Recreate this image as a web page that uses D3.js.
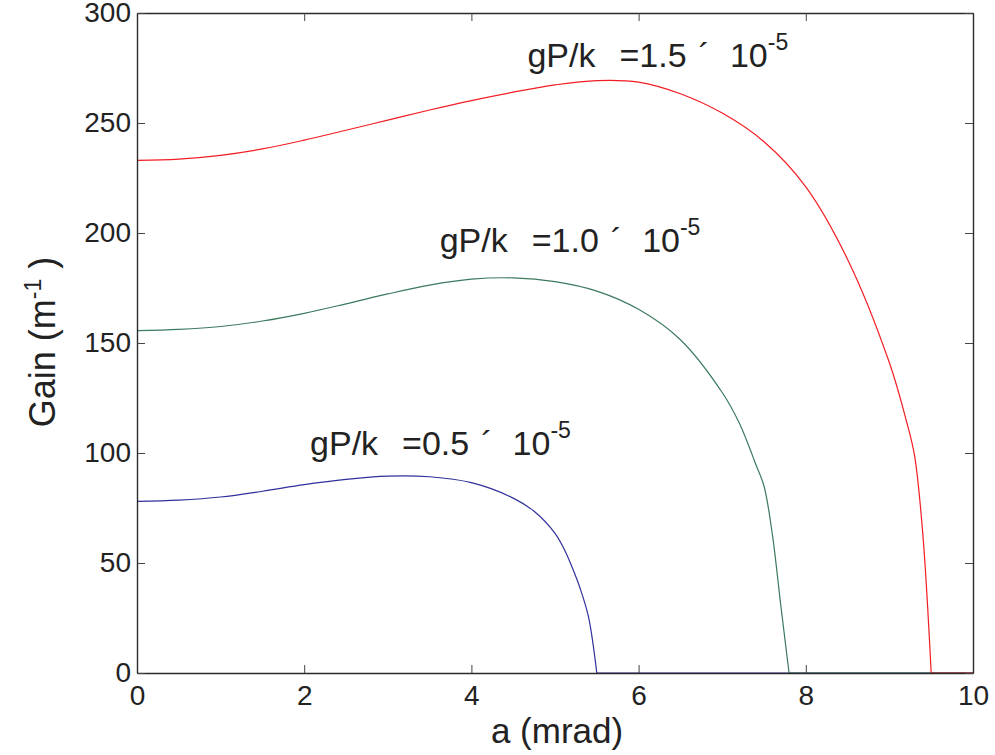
<!DOCTYPE html>
<html>
<head>
<script src="https://d3js.org/d3.v7.min.js"></script>
<style>
	body { margin: 0; background: #fff; }
	text { font-family: "Liberation Sans", Arial, sans-serif; fill: #222; }
</style>
</head>
<body>
<script>
	var width = 995;
	var height = 755;
	var margin = {top: 13, right: 20, bottom: 82, left: 137};

	// axis ticks
	var xTicks = [0, 2, 4, 6, 8, 10];
	var yTicks = [0, 50, 100, 150, 200, 250, 300];

	// curves (alpha in mrad, gain in 1/m)
	var blueX = [0, 0.5, 1.0, 1.5, 2.0, 2.5, 3.0, 3.5, 4.0, 4.5, 4.75, 5.0, 5.1, 5.2, 5.3, 5.4, 5.5, 10];
	var blueY = [78, 78.6, 80.0, 82.6, 85.6, 88.0, 89.5, 89.2, 86.5, 79.5, 73.5, 63.5, 57, 48.5, 38.5, 25.6, 0, 0];

	var greenX = [0, 0.5, 1.0, 1.5, 2.0, 2.5, 3.0, 3.5, 4.0, 4.5, 5.0, 5.5, 6.0, 6.5, 7.0, 7.2, 7.3, 7.4, 7.5, 7.6, 7.7, 7.8, 10];
	var greenY = [155.6, 156.2, 157.5, 160.0, 163.5, 167.8, 172.3, 176.3, 179.0, 179.6, 177.9, 173.6, 165.3, 151.5, 127.5, 114, 105, 95, 85, 63, 31, 0, 0];

	var redX = [0, 0.5, 1.0, 1.5, 2.0, 2.5, 3.0, 3.5, 4.0, 4.5, 5.0, 5.5, 6.0, 6.5, 7.0, 7.5, 8.0, 8.5, 9.0, 9.2, 9.3, 9.4, 9.5, 10];
	var redY = [233, 233.6, 235.3, 238.2, 242.2, 246.7, 251.3, 255.9, 260.2, 264.0, 267.3, 269.3, 268.6, 263.3, 254.5, 241.5, 221, 188, 141, 115, 99, 63, 0, 0];

	// labels placed at data coordinates, like text() in the original
	var labelText = ["0.5", "1.0", "1.5"];
	var labelX = [2.07, 3.62, 4.67];
	var labelY = [99, 191.5, 275.5];
	var colors = ["#30309c", "#3c7a5e", "#f21d23"];

	var series = [
		{x: blueX, y: blueY},
		{x: greenX, y: greenY},
		{x: redX, y: redY}
	];

	var svg = d3.select("body")
		.append("svg")
		.attr("width", width)
		.attr("height", height)

	var xScale = d3.scaleLinear()
		.domain([0, 10])
		.range([margin.left, width - margin.right - 2])
	var yScale = d3.scaleLinear()
		.domain([0, 300])
		.range([height - margin.bottom - 0, margin.top])

	// curves: smooth part, then a straight run along zero
	var smooth = d3.line()
		.x(d => xScale(d[0]))
		.y(d => yScale(d[1]))
		.curve(d3.curveCatmullRom.alpha(0.5))
	var straight = d3.line()
		.x(d => xScale(d[0]))
		.y(d => yScale(d[1]))

	series.forEach(function(s, i) {
		var pts = s.x.map((v, j) => [v, s.y[j]]);
		var cut = pts.findIndex(p => p[1] === 0);
		var head = pts.slice(0, cut + 1);
		var tail = pts.slice(cut);
		svg.append("path")
			.attr("d", smooth(head) + straight(tail))
			.attr("fill", "none")
			.attr("stroke", colors[i])
			.attr("stroke-width", 1.2)
	});

	// axes, ticks pointing inwards on all four sides
	var x0 = xScale.range()[0], x1 = xScale.range()[1];
	var y0 = yScale.range()[0], y1 = yScale.range()[1];

	svg.append("g")
		.attr("transform", "translate(0," + y0 + ")")
		.call(d3.axisBottom(xScale).tickValues(xTicks).tickSizeInner(-8).tickSizeOuter(0).tickPadding(12))
	svg.append("g")
		.attr("transform", "translate(0," + y1 + ")")
		.call(d3.axisTop(xScale).tickValues(xTicks).tickSizeInner(-8).tickSizeOuter(0).tickFormat(""))
	svg.append("g")
		.attr("transform", "translate(" + x0 + ",0)")
		.call(d3.axisLeft(yScale).tickValues(yTicks).tickSizeInner(-8).tickSizeOuter(0).tickPadding(6))
	svg.append("g")
		.attr("transform", "translate(" + x1 + ",0)")
		.call(d3.axisRight(yScale).tickValues(yTicks).tickSizeInner(-8).tickSizeOuter(0).tickFormat(""))

	svg.selectAll(".domain").attr("stroke", "#2a2a2a").attr("stroke-width", 1.4)
	svg.selectAll(".tick line").attr("stroke", "#444").attr("stroke-width", 1)
	svg.selectAll(".tick text").style("font-size", "28px").attr("fill", "#222")

	// annotations
	labelText.forEach(function(t, i) {
		var txt = svg.append("text")
			.attr("x", xScale(labelX[i]))
			.attr("y", yScale(labelY[i]))
			.style("font-size", "34px")
		txt.append("tspan").text("gP/k")
		txt.append("tspan").attr("dx", 24).text("=" + t)
		txt.append("tspan").attr("dx", 12).text("\u00b4")
		txt.append("tspan").attr("dx", 20).text("10")
		txt.append("tspan").attr("dy", -17).style("font-size", "23px").text("-5")
	});

	// axis titles
	svg.append("text")
		.attr("x", 557)
		.attr("y", 743)
		.attr("text-anchor", "middle")
		.style("font-size", "35px")
		.text("a (mrad)")

	var ylab = svg.append("text")
		.attr("transform", "translate(55,342) rotate(-90)")
		.attr("text-anchor", "middle")
		.style("font-size", "36px")
	ylab.append("tspan").text("Gain (m")
	ylab.append("tspan").attr("dy", -14).style("font-size", "23px").text("-1")
	ylab.append("tspan").attr("dy", 14).text(" )")
</script>
</body>
</html>
